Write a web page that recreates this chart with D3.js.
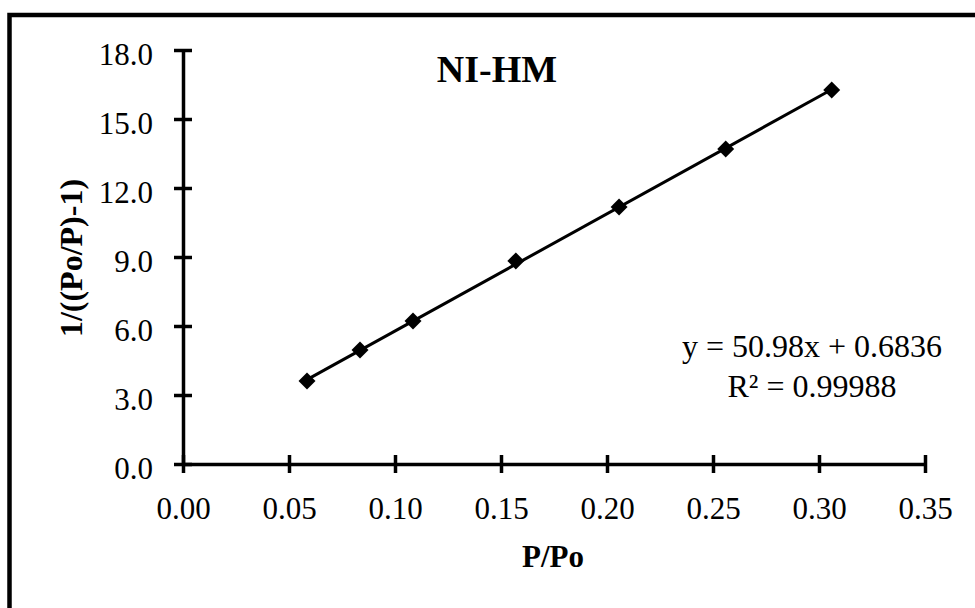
<!DOCTYPE html>
<html><head><meta charset="utf-8">
<script src="https://cdn.jsdelivr.net/npm/d3@7"></script>
<style>body{margin:0;background:#fff}svg{display:block}</style>
</head><body>
<script>
const xValues = [0.0585, 0.0835, 0.1085, 0.157, 0.2057, 0.256, 0.306];
const yValues = [3.61, 4.96, 6.22, 8.83, 11.17, 13.70, 16.26];
const xTicks = [0, 0.05, 0.10, 0.15, 0.20, 0.25, 0.30, 0.35];
const yTicks = [0, 3, 6, 9, 12, 15, 18];
const slope = 50.98, intercept = 0.6836;
const title = "NI-HM";
const xLabel = "P/Po";
const yLabel = "1/((Po/P)-1)";
const eqText = "y = 50.98x + 0.6836";
const r2Text = "R² = 0.99988";

const W = 975, H = 608;
const svg = d3.select("body").append("svg").attr("width", W).attr("height", H);
const font = "'Liberation Serif','Times New Roman',serif";

svg.append("rect").attr("x", 9.5).attr("y", 15).attr("width", 1000).attr("height", 700)
  .attr("fill", "none").attr("stroke", "#000").attr("stroke-width", 4.5);

const x = d3.scaleLinear().domain([0, 0.35]).range([183, 925]);
const y = d3.scaleLinear().domain([0, 18]).range([464, 50]);

const xAxis = svg.append("g").attr("transform", "translate(0,464)")
  .call(d3.axisBottom(x).tickValues(xTicks).tickFormat(d3.format(".2f")).tickSize(0).tickPadding(0));
xAxis.select(".domain").attr("stroke-width", 3.5);
xAxis.selectAll(".tick").append("line").attr("y1", -9).attr("y2", 9).attr("stroke", "#000").attr("stroke-width", 3.5);
xAxis.selectAll("text").attr("font-family", font).attr("font-size", 31).attr("fill", "#000")
  .attr("dy", null).attr("y", 55);

const yAxis = svg.append("g").attr("transform", "translate(183,0)")
  .call(d3.axisLeft(y).tickValues(yTicks).tickFormat(d3.format(".1f")).tickSize(0).tickPadding(30));
yAxis.select(".domain").attr("stroke-width", 3.5);
yAxis.selectAll(".tick").append("line").attr("x1", -9).attr("x2", 9).attr("stroke", "#000").attr("stroke-width", 3.5);
yAxis.selectAll("text").attr("font-family", font).attr("font-size", 31).attr("fill", "#000")
  .attr("dy", null).attr("y", 14);

// trendline
const x0 = d3.min(xValues), x1 = d3.max(xValues);
svg.append("line")
  .attr("x1", x(x0)).attr("y1", y(slope * x0 + intercept))
  .attr("x2", x(x1)).attr("y2", y(slope * x1 + intercept))
  .attr("stroke", "#000").attr("stroke-width", 3);

svg.append("g").selectAll("path").data(xValues.map((v, i) => [v, yValues[i]])).join("path")
  .attr("transform", d => `translate(${x(d[0])},${y(d[1])}) rotate(45)`)
  .attr("d", "M-6,-6H6V6H-6Z").attr("fill", "#000");

svg.append("text").attr("x", 497).attr("y", 82).attr("text-anchor", "middle")
  .attr("font-family", font).attr("font-weight", "bold").attr("font-size", 38).text(title);
svg.append("text").attr("x", 553).attr("y", 567).attr("text-anchor", "middle")
  .attr("font-family", font).attr("font-weight", "bold").attr("font-size", 31).text(xLabel);
svg.append("text").attr("transform", "translate(82,258) rotate(-90)").attr("text-anchor", "middle")
  .attr("font-family", font).attr("font-weight", "bold").attr("font-size", 32).text(yLabel);

svg.append("text").attr("x", 812).attr("y", 357).attr("text-anchor", "middle")
  .attr("font-family", font).attr("font-size", 32).text(eqText);
svg.append("text").attr("x", 812).attr("y", 397).attr("text-anchor", "middle")
  .attr("font-family", font).attr("font-size", 32).text(r2Text);
</script>
</body></html>
